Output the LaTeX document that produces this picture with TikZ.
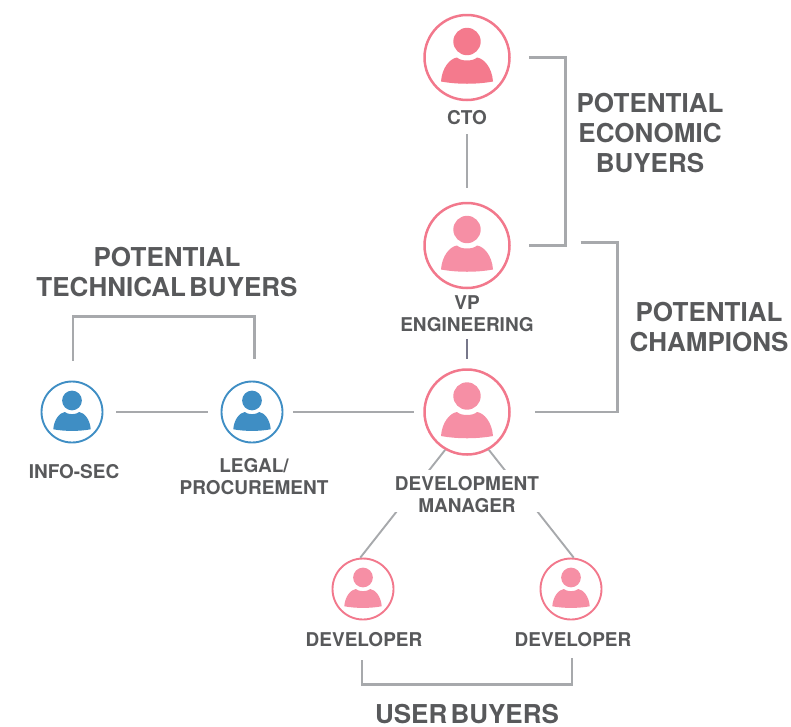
\documentclass[tikz,border=0pt]{standalone}
\usepackage{fontspec}
\setmainfont{TeX Gyre Heros}
\definecolor{linkgrey}{HTML}{A7A9AC}
\definecolor{slategrey}{HTML}{77778A}
\definecolor{textgrey}{HTML}{58595B}
\definecolor{ringpink}{HTML}{F2788C}
\definecolor{ctopink}{HTML}{F47A8D}
\definecolor{bodypink}{HTML}{F68FA5}
\definecolor{secblue}{HTML}{3F8EC4}
\tikzset{
  bigring/.style={circle, inner sep=0pt, minimum size=85pt, line width=2.5pt, draw=ringpink},
  smallring/.style={circle, inner sep=0pt, minimum size=61pt, line width=1.9pt, draw=ringpink},
  bluering/.style={smallring, draw=secblue},
  link/.style={draw=linkgrey, line width=2.6pt},
  role/.style={text=textgrey, font=\fontsize{19}{21.5}\selectfont\bfseries, align=center, inner sep=0pt},
  group/.style={text=textgrey, font=\fontsize{26}{30}\selectfont\bfseries, align=center, inner sep=0pt},
  person/.pic={
    \fill[pic actions] (0,-16) circle (13.7);
    \fill[pic actions] (-26,24) .. controls (-25,10) and (-17,1) .. (-10,0) .. controls (-6,4) and (6,4) .. (10,0) .. controls (17,1) and (25,10) .. (26,24) .. controls (10,27) and (-10,27) .. (-26,24) -- cycle;
  }
}
\begin{document}
\begin{tikzpicture}[x=1pt, y=-1pt]
\useasboundingbox (0,0) rectangle (791,726);
\node[bigring] (cto) at (467,57.5){};
\node[bigring] (vpeng) at (467,245.5){};
\node[bigring] (devmgr) at (467,412){};
\node[smallring] (dev1) at (363,589){};
\node[smallring] (dev2) at (571,589){};
\node[bluering] (infosec) at (72,412){};
\node[bluering] (legal) at (252,412){};
\pic[fill=ctopink] at (cto) {person};
\pic[fill=bodypink] at (vpeng) {person};
\pic[fill=bodypink] at (devmgr) {person};
\pic[fill=bodypink, scale=.72] at (dev1) {person};
\pic[fill=bodypink, scale=.72] at (dev2) {person};
\pic[fill=secblue, scale=.72] at (infosec) {person};
\pic[fill=secblue, scale=.72] at (legal) {person};

\draw[link, shorten <=33pt, shorten >=14pt](cto) -- (vpeng);
\draw[link, draw=slategrey, shorten <=49.5pt, shorten >=9pt](vpeng.south) -- (devmgr.north);
\draw[link, shorten <=13pt, shorten >=13pt](infosec.east) -- (legal.west);
\draw[link, shorten <=10pt, shorten >=9pt](legal.east) -- (devmgr.west);
\draw[link, line width=1.9pt](devmgr.240) -- (dev1.95);
\draw[link, line width=1.9pt](devmgr.300) -- (dev2.85);
\draw[link, shorten <=18pt, shorten >=18pt](cto.east) -- ++(54.5,0) |- (vpeng.east);
\draw[link, shorten <=70pt, shorten >=24pt](vpeng.4) -- ++(107,0) |- (devmgr.east);
\draw[link, shorten <=20pt, shorten >=22pt](infosec.88) -- ++(0,-64) -| (legal.85);
\draw[link, shorten <=40pt, shorten >=38pt](dev1.268) -- ++(0,64) -| (dev2.272);

\node[role] (lblcto) at (467,117.7){CTO};
\node[role] (lblvp) at (467,313.7){VP\\ENGINEERING};
\node[role, fill=white] (lblmgr) at (467,490.9){\rule{0pt}{21pt}DEVELOPMENT\\MANAGER};
\node[role] (lbldev1) at (364,639.7){DEVELOPER};
\node[role] (lbldev2) at (573,639.7){DEVELOPER};
\node[role] (lblinfo) at (74,471.7){INFO-SEC};
\node[role] (lbllegal) at (254,476.7){LEGAL/\\PROCUREMENT};
\node[group] (lblecon) at (650,133.5){POTENTIAL\\ECONOMIC\\BUYERS};
\node[group] (lblchamp) at (709,327){POTENTIAL\\CHAMPIONS};
\node[group] (lbltech) at (167,272.5){POTENTIAL\\TECHNICAL\hspace{-4pt} BUYERS};
\node[group] (lbluser) at (467,714){USER\hspace{-4pt} BUYERS};

\end{tikzpicture}
\end{document}
